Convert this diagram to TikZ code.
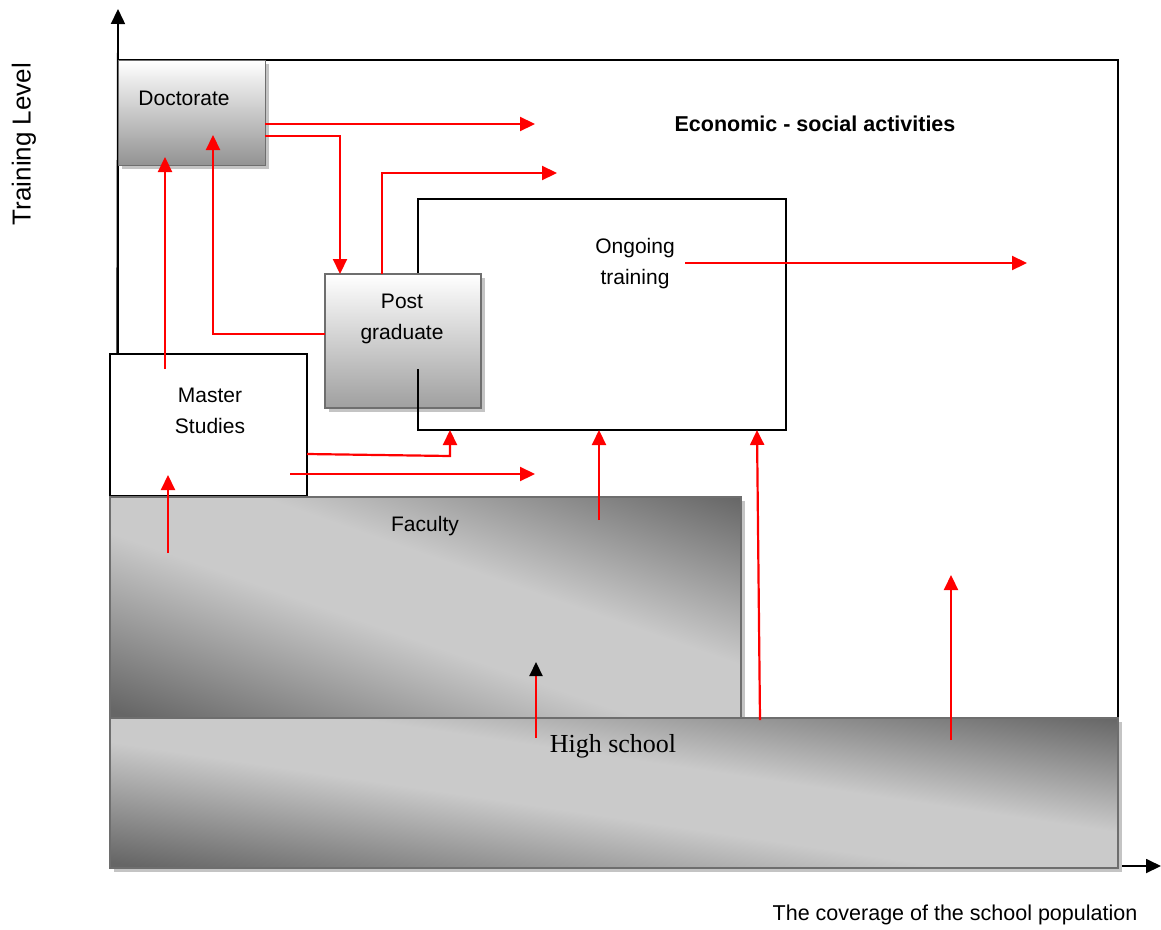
\documentclass[tikz,border=0pt]{standalone}
\usepackage{fontspec}
\setmainfont{Liberation Sans}
\newfontfamily\hsfont{Liberation Serif}
\usetikzlibrary{positioning,arrows.meta,shadows}

\definecolor{shadedark}{HTML}{666666}
\definecolor{shadelight}{HTML}{CACACA}
\definecolor{boxedge}{HTML}{6E6E6E}
\definecolor{shadowgray}{HTML}{C4C4C4}
\pgfdeclareverticalshading{levelfade}{100bp}{color(0bp)=(shadedark); color(26bp)=(shadedark);
  color(46bp)=(shadelight); color(56bp)=(shadelight); color(75bp)=(shadedark); color(100bp)=(shadedark)}

\begin{document}
\begin{tikzpicture}[
    x=1pt,y=-1pt,
    font=\fontsize{21}{31}\selectfont,
    level/.style={anchor=north west,inner sep=0pt,outer sep=0pt},
    shadowed/.style={drop shadow={shadow xshift=3.5pt,shadow yshift=-3.5pt,fill=shadowgray,opacity=1}},
    vertfade/.style={top color=white,bottom color=#1},
    diagfade/.style 2 args={fill=shadelight,path picture={
        \shade[shading=levelfade,transform canvas={rotate around={#1:(path picture bounding box.center)}}]
          (path picture bounding box.center) ++(-700,-#2) rectangle ++(1400,2*#2);}},
    flow/.style={red,line width=2.2pt,-{Triangle[length=15pt,width=14pt]}},
    axis/.style={line width=1.8pt,-{Triangle[length=15pt,width=14pt]}}
]

\useasboundingbox (0,0) rectangle (1161,929);

% axes
\draw[axis] (116,868) -- (118,9);
\draw[axis] (110,866) -- (1161,866);
\node[rotate=90,font=\fontsize{26}{30}\selectfont] (ylabel) at (24,144) {Training Level};
\node[font=\fontsize{21.5}{26}\selectfont] (xlabel) at (955,915) {The coverage of the school population};

% frames
\node[level,draw,line width=1.5pt,minimum width=1000pt,minimum height=660pt] (econ) at (118,60) {};
\node[level,draw,line width=1.5pt,minimum width=368pt,minimum height=231pt] (ongoing) at (418,199) {};

% levels
\node[level,shadowed,vertfade=gray!85,draw=boxedge,line width=1pt,
      minimum width=147pt,minimum height=105pt] (doc) at (118,60) {};
\node[level,draw,fill=white,line width=1.5pt,minimum width=197pt,minimum height=142pt] (master) at (110,354) {};
\node[level,shadowed,diagfade={-19.3}{208.6},draw=boxedge,line width=2pt,
      minimum width=631pt,minimum height=221pt] (faculty) at (110,497) {};
\node[level,shadowed,diagfade={-8.5}{148.7},draw=boxedge,line width=2pt,
      minimum width=1008pt,minimum height=150pt] (school) at (110,718) {};
\node[level,shadowed,vertfade=gray!75,draw=boxedge,line width=2.5pt,
      minimum width=156pt,minimum height=134pt] (post) at (325,274) {};
\draw[line width=1.5pt] (418,369) -- (ongoing.south west);

% texts
\node (doctxt) at (184,98) {Doctorate};
\node[font=\bfseries\fontsize{21.5}{26}\selectfont] (econtxt) at (815,124) {Economic - social activities};
\node[align=center] (ongoingtxt) at (635,264) {Ongoing\\training};
\node[align=center] (posttxt) at (402,319) {Post\\graduate};
\node[align=center] (mastertxt) at (210,411) {Master\\Studies};
\node (facultytxt) at (425,526) {Faculty};
\node[font=\hsfont\fontsize{26}{30}\selectfont] (schooltxt) at (613,746) {High school};

% flows
\coordinate (e1) at (535,124);
\coordinate (e2) at (340,136);
\coordinate (e3) at (557,173);
\coordinate (e4) at (213,135);
\coordinate (e5) at (165,157);
\coordinate (e6) at (450,456);
\coordinate (e7) at (535,474);
\coordinate (e8) at (168,475);
\coordinate (s9) at (685,263);
\coordinate (e9) at (1027,263);
\coordinate (e10) at (951,575);

\draw[flow] (doc.east |- e1) -- (e1);
\draw[flow] (doc.east |- e2) -| (post.north -| e2);
\draw[flow] (post.north -| 382,0) |- (e3);
\draw[flow] (post.west |- 0,334) -| (e4);
\draw[flow] (165,369) -- (e5);
\draw[flow] (master.east |- 0,454) -- (e6) -- (ongoing.south -| e6);
\draw[flow] (290,474) -- (e7);
\draw[flow] (168,553) -- (e8);
\draw[flow] (s9) -- (e9);
\draw[flow] (599,520) -- (ongoing.south -| 599,0);
\draw[flow] (760,720) -- (ongoing.south -| 757,0);
\draw[flow] (951,740) -- (e10);
\draw[flow,-{Triangle[length=14pt,width=13pt,color=black]}] (536,738) -- (536,662);

\end{tikzpicture}
\end{document}
